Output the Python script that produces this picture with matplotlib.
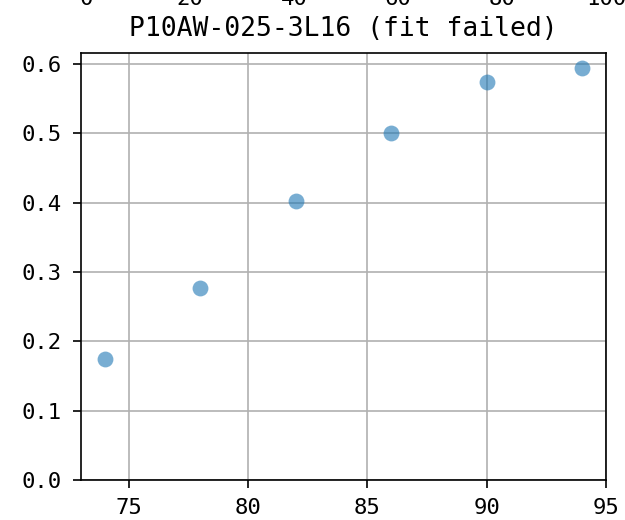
import matplotlib
matplotlib.use('Agg')
import matplotlib.pyplot as plt

# wafer position vs. measured value
temps = [74, 78, 82, 86, 90, 94]
values = [0.175, 0.277, 0.403, 0.500, 0.574, 0.594]
top_ticks = [0, 20, 40, 60, 80, 100]
title = 'P10AW-025-3L16 (fit failed)'

plt.rcParams['font.family'] = ['DejaVu Sans Mono', 'DejaVu Sans']
plt.rcParams['axes.linewidth'] = 1.2

fig = plt.figure(figsize=(6.25, 5.2), dpi=100)

# bit of the neighbouring panel that pokes in at the top
ax_up = fig.add_axes([0.1296, 1.047, 0.84, 0.5])
ax_up.set_xlim(-1, 100)
ax_up.set_xticks(top_ticks)
ax_up.tick_params(labelsize=16, pad=6)
ax_up.set_yticks([])

ax = fig.add_axes([0.1296, 0.0769, 0.84, 0.821])
ax.scatter(temps, values, s=130, color='tab:blue', alpha=0.6,
           linewidths=0, zorder=3)
ax.set_xlim(73, 95)
ax.set_ylim(0, 0.616)
ax.set_xticks([75, 80, 85, 90, 95])
ax.set_yticks([0.0, 0.1, 0.2, 0.3, 0.4, 0.5, 0.6])
ax.set_yticklabels(['0.0', '0.1', '0.2', '0.3', '0.4', '0.5', '0.6'])
ax.grid(True, color='#b0b0b0', linewidth=1.2)
ax.set_axisbelow(True)
ax.tick_params(labelsize=16, length=6, width=1.2)
ax.tick_params(axis='y', pad=8)
ax.tick_params(axis='x', pad=7)
ax.set_title(title, fontsize=19, pad=12)

fig.savefig('out.png', dpi=100)
